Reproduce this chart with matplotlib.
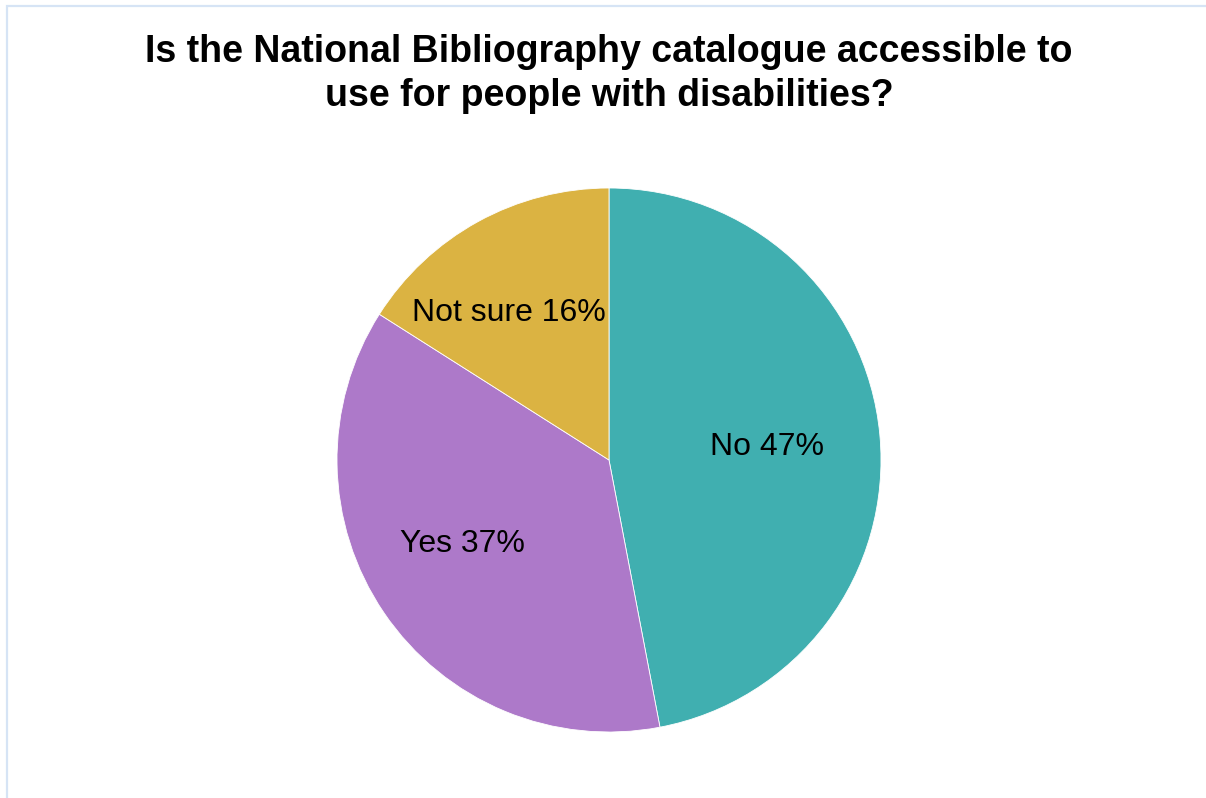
import matplotlib
matplotlib.use("Agg")
import matplotlib.pyplot as plt
import numpy as np

plt.rcParams['font.family'] = ['Liberation Sans', 'DejaVu Sans']

categories = ["No", "Yes", "Not sure"]
values = [47, 37, 16]
colors = ["#40AFB0", "#AD79C9", "#DBB342"]
title = "Is the National Bibliography catalogue accessible to\nuse for people with disabilities?"

W, H = 1206, 798
fig = plt.figure(figsize=(W / 100, H / 100), dpi=100)
fig.patch.set_facecolor("white")

# light frame along the left and top edges
frame = plt.Rectangle((6.5 / W, -0.1), 1.2, (H - 6.5) / H + 0.1, transform=fig.transFigure,
                      fill=False, edgecolor="#D6E4F5", linewidth=1.6)
fig.add_artist(frame)

cx, cy, r = 609, 460, 272
ax = fig.add_axes([(cx - r) / W, (H - cy - r) / H, 2 * r / W, 2 * r / H])
wedges, texts = ax.pie(
    values, colors=colors, startangle=90, counterclock=False, radius=1,
    labels=[f"{c} {v}%" for c, v in zip(categories, values)],
    labeldistance=0.6,
    wedgeprops=dict(edgecolor="white", linewidth=0.6),
    textprops=dict(fontsize=23, color="black", ha="center", va="center"),
)
# per-label radial distance and angular nudge (degrees)
dists = [0.584, 0.617, 0.663]
nudges = [0.4, -5.3, 4.9]
drop = 3 / r  # small downward shift in axis units
for w, t, d, n in zip(wedges, texts, dists, nudges):
    ang = np.deg2rad((w.theta1 + w.theta2) / 2 + n)
    t.set_position((d * np.cos(ang), d * np.sin(ang) - drop))
    t.set_ha("center")
    t.set_va("center")
ax.set_xlim(-1, 1)
ax.set_ylim(-1, 1)
ax.set_aspect("equal")
ax.axis("off")

fig.text(cx / W, 1 - 74 / H, title, ha="center", va="center", fontsize=27,
         fontweight="bold", linespacing=1.25)

fig.savefig("out.png", dpi=100, facecolor="white")
